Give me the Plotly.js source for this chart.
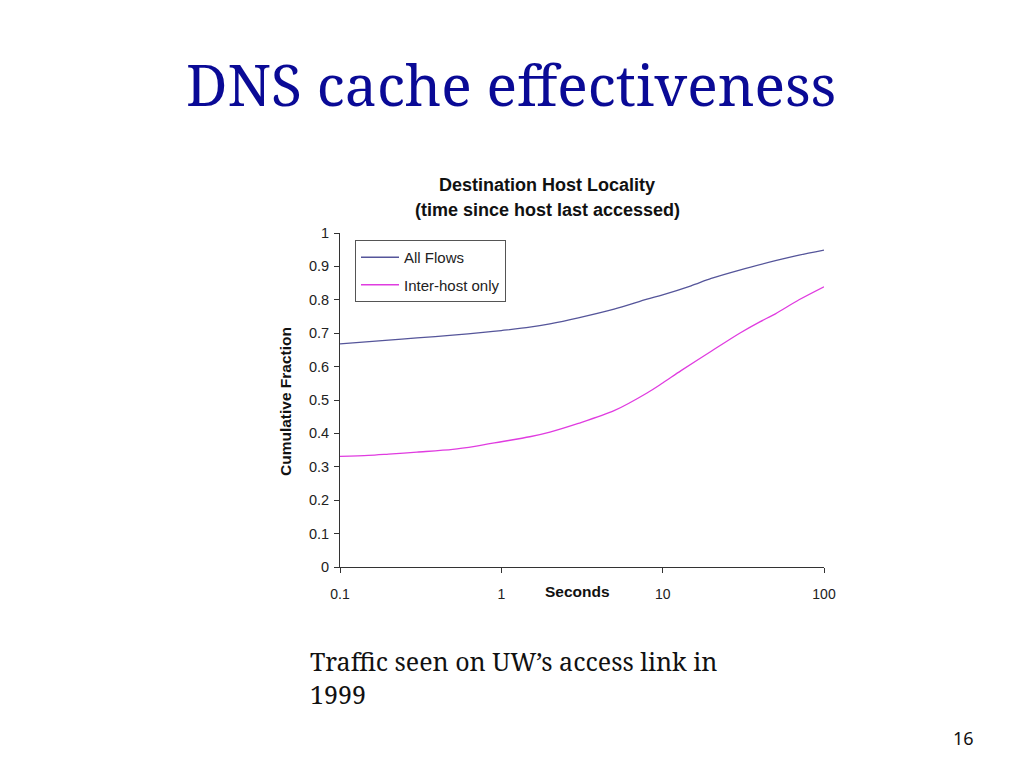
<!DOCTYPE html>
<html>
<head>
<meta charset="utf-8">
<script src="https://cdn.plot.ly/plotly-3.0.1.min.js"></script>
<style>
  html, body { margin: 0; padding: 0; background: #fff; }
  #chart { width: 1024px; height: 768px; }
</style>
</head>
<body>
<div id="chart"></div>
<script>
// values (seconds vs cumulative fraction)
var all_seconds = [0.1, 0.2, 0.3, 0.5, 0.8, 1, 1.5, 2, 3, 5, 8, 10, 15, 20, 30, 50, 70, 100];
var all_flows   = [0.668, 0.679, 0.686, 0.694, 0.703, 0.708, 0.718, 0.728, 0.746, 0.772, 0.802, 0.815, 0.842, 0.864, 0.889, 0.917, 0.934, 0.949];

var inter_seconds = [0.1, 0.15, 0.2, 0.3, 0.5, 0.7, 1, 1.5, 2, 3, 5, 8, 10, 13, 20, 30, 40, 50, 70, 100];
var inter_host    = [0.331, 0.334, 0.338, 0.344, 0.352, 0.362, 0.375, 0.39, 0.404, 0.43, 0.468, 0.521, 0.551, 0.588, 0.646, 0.700, 0.734, 0.758, 0.80, 0.839];

var x_ticks = [0.1, 1, 10, 100];
var x_labels = ['0.1', '1', '10', '100'];
var y_ticks = [0, 0.1, 0.2, 0.3, 0.4, 0.5, 0.6, 0.7, 0.8, 0.9, 1];
var y_labels = ['0', '0.1', '0.2', '0.3', '0.4', '0.5', '0.6', '0.7', '0.8', '0.9', '1'];

var sans = 'Liberation Sans, Arial, sans-serif';
var serif = 'Noto Serif, DejaVu Serif, serif';

var traces = [
  {
    x: all_seconds, y: all_flows, type: 'scatter', mode: 'lines',
    name: 'All Flows', legendgroup: 'a',
    line: {color: '#55559a', width: 1.3, shape: 'spline', smoothing: 0.8}
  },
  {
    x: inter_seconds, y: inter_host, type: 'scatter', mode: 'lines',
    name: 'Inter-host only', legendgroup: 'b',
    line: {color: '#e03ce0', width: 1.3, shape: 'spline', smoothing: 0.8}
  }
];

function note(text, x, y, size, fam, extra){
  var a = {text: text, xref: 'paper', yref: 'paper', x: x/1024, y: 1 - y/768,
           xanchor: 'center', yanchor: 'middle', showarrow: false,
           font: {family: fam, size: size, color: '#111'}};
  return Object.assign(a, extra || {});
}

var layout = {
  width: 1024, height: 768,
  margin: {l: 0, r: 0, t: 0, b: 0},
  paper_bgcolor: '#fff', plot_bgcolor: '#fff',
  showlegend: true,
  legend: {
    x: 355/1024, y: 1 - 240/768, xanchor: 'left', yanchor: 'top',
    bordercolor: '#555', borderwidth: 1, bgcolor: '#fff',
    font: {family: sans, size: 15, color: '#222'},
    traceorder: 'grouped', tracegroupgap: 5, itemwidth: 38
  },
  xaxis: {
    type: 'log', range: [-1, 2], domain: [340/1024, 824/1024],
    tickvals: x_ticks, ticktext: x_labels,
    showgrid: false, zeroline: false,
    showline: true, linecolor: '#333', linewidth: 1,
    ticks: 'outside', ticklen: 5, tickcolor: '#333', ticklabelstandoff: 9,
    tickfont: {family: sans, size: 14, color: '#222'}
  },
  yaxis: {
    range: [0, 1], domain: [1 - 567/768, 1 - 233/768],
    tickvals: y_ticks, ticktext: y_labels,
    showgrid: false, zeroline: false,
    showline: true, linecolor: '#333', linewidth: 1,
    ticks: 'outside', ticklen: 5, tickcolor: '#333', ticklabelstandoff: 2,
    tickfont: {family: sans, size: 14.5, color: '#222'}
  },
  annotations: [
    note('DNS cache effectiveness', 511, 84, 57, serif, {font: {family: serif, size: 57, color: '#0a0a96'}}),
    note('<b>Destination Host Locality</b>', 547, 185, 18, sans),
    note('<b>(time since host last accessed)</b>', 547, 210, 18, sans),
    note('<b>Seconds</b>', 577, 591, 15.5, sans),
    note('<b>Cumulative Fraction</b>', 285, 402, 15.5, sans, {textangle: -90}),
    note('Traffic seen on UW’s access link in<br>1999', 308, 677, 25, serif, {xanchor: 'left', align: 'left'}),
    note('16', 963, 738, 18, 'Noto Sans, sans-serif')
  ]
};

Plotly.newPlot('chart', traces, layout, {displayModeBar: false, staticPlot: true});
</script>
</body>
</html>
